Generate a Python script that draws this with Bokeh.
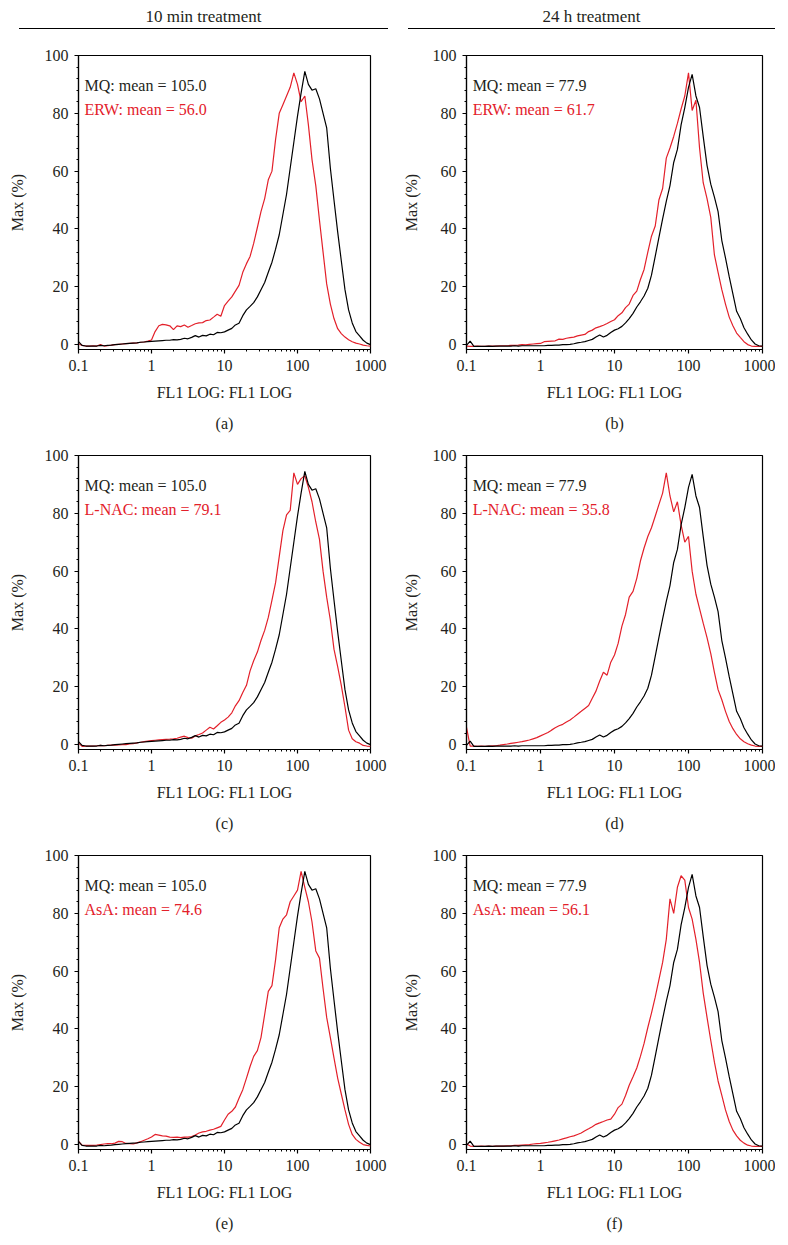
from bokeh.plotting import figure
from bokeh.models import (Range1d, FixedTicker, SingleIntervalTicker, CustomJSTickFormatter,
                          Label, Title, Div)
from bokeh.layouts import column, row
from bokeh.embed import file_html
from bokeh.resources import INLINE

FONT = "Liberation Serif"
RED = "#e3202a"
INK = "#231f20"

# FL1 LOG channel positions (x values)
fl1 = [0.100, 0.112, 0.126, 0.141, 0.158, 0.178, 0.200, 0.224, 0.251, 0.282,
       0.316, 0.355, 0.398, 0.447, 0.501, 0.562, 0.631, 0.708, 0.794, 0.891,
       1.00, 1.12, 1.26, 1.41, 1.58, 1.78, 2.00, 2.24, 2.51, 2.82,
       3.16, 3.55, 3.98, 4.47, 5.01, 5.62, 6.31, 7.08, 7.94, 8.91,
       10.0, 11.2, 12.6, 14.1, 15.8, 17.8, 20.0, 22.4, 25.1, 28.2,
       31.6, 35.5, 39.8, 44.7, 50.1, 56.2, 63.1, 70.8, 79.4, 89.1,
       100, 112, 126, 141, 158, 178, 200, 224, 251, 282,
       316, 355, 398, 447, 501, 562, 631, 708, 794, 891,
       1000]

# MQ control, 10 min (black)
mq_10min = [1.0, -0.3, -0.5, -0.5, -0.5, -0.5, -0.3, -0.4, -0.3, -0.2,
            0.0, 0.1, 0.2, 0.3, 0.4, 0.5, 0.6, 0.8, 0.9, 1.0,
            1.1, 1.2, 1.3, 1.4, 1.5, 1.5, 1.7, 1.6, 1.8, 2.2,
            2.0, 2.5, 3.1, 2.6, 3.2, 3.0, 3.6, 3.4, 4.2, 4.1,
            4.4, 5.0, 5.6, 6.8, 7.4, 10.0, 12.0, 13.2, 14.5, 16.5,
            19.0, 21.5, 25.0, 28.5, 33.0, 38.0, 45.0, 52.0, 61.0, 70.0,
            79.0, 87.0, 94.5, 90.0, 88.0, 88.5, 85.0, 80.0, 75.0, 61.0,
            50.0, 39.0, 29.0, 19.0, 12.0, 7.5, 4.5, 3.0, 1.5, 0.5,
            0.0]

# MQ control, 24 h (black)
mq_24h = [-0.3, 1.2, -0.6, -0.6, -0.6, -0.6, -0.5, -0.6, -0.5, -0.5,
          -0.5, -0.5, -0.5, -0.4, -0.5, -0.4, -0.4, -0.4, -0.4, -0.4,
          -0.4, -0.4, -0.3, -0.3, -0.2, -0.2, 0.0, 0.0, 0.1, 0.3,
          0.6, 0.8, 1.0, 1.4, 1.8, 2.6, 3.3, 2.6, 3.2, 4.2,
          5.0, 5.5, 6.3, 7.5, 9.0, 10.8, 13.0, 14.8, 16.8, 19.5,
          24.0, 30.5, 37.0, 43.5, 49.5, 55.0, 63.0, 67.5, 76.0, 82.0,
          89.0, 93.5, 86.0, 82.0, 72.0, 62.0, 55.5, 51.0, 46.0, 36.0,
          30.0, 23.5, 17.5, 11.5, 9.0, 5.8, 3.6, 1.6, 0.2, -0.4,
          -0.5]

# ERW (red)
erw_10min = [0.3, -0.3, -0.5, -0.5, -0.4, -0.5, 0.0, -0.5, -0.4, -0.2,
             0.0, 0.1, 0.2, 0.3, 0.4, 0.5, 0.6, 0.8, 0.9, 1.2,
             1.6, 4.5, 6.5, 7.0, 6.8, 6.5, 5.2, 6.5, 6.2, 6.8,
             6.0, 6.6, 7.2, 7.5, 7.6, 8.3, 8.5, 9.5, 10.5, 9.8,
             13.5, 15.0, 16.5, 18.5, 20.5, 25.0, 28.0, 30.5, 35.0, 40.5,
             46.0, 50.5, 57.0, 60.0, 71.0, 80.0, 83.0, 86.0, 89.0, 94.0,
             90.0, 84.0, 86.0, 76.0, 64.0, 55.0, 43.0, 32.0, 21.0, 14.0,
             9.0, 5.5, 3.8, 2.6, 1.7, 1.0, 0.5, 0.2, -0.2, -0.4,
             -0.5]

erw_24h = [-0.5, -0.6, -0.6, -0.5, -0.6, -0.6, -0.5, -0.5, -0.5, -0.4,
           -0.4, -0.4, -0.3, -0.3, -0.2, 0.0, -0.1, 0.1, 0.2, 0.3,
           0.4, 1.0, 1.1, 1.2, 1.3, 1.9, 1.8, 2.2, 2.4, 2.6,
           3.0, 3.3, 3.5, 4.5, 5.0, 5.8, 6.2, 6.7, 7.3, 8.0,
           8.6, 10.0, 11.0, 12.8, 14.0, 17.0, 18.5, 22.5, 26.0, 32.0,
           37.5, 41.0, 50.0, 54.0, 64.5, 68.0, 72.0, 76.5, 81.5, 86.0,
           94.0, 81.0, 84.5, 68.0, 56.0, 50.5, 44.0, 31.0, 25.0, 19.0,
           14.0, 9.5, 6.5, 4.0, 2.5, 1.0, 0.0, -0.5, -0.6, -0.6,
           -0.6]

# L-NAC (red)
lnac_10min = [0.5, -0.6, -0.5, -0.5, -0.5, -0.4, -0.3, -0.4, -0.3, -0.2,
              -0.2, -0.1, 0.0, 0.0, 0.2, 0.3, 0.6, 0.8, 1.0, 1.2,
              1.4, 1.5, 1.6, 1.7, 1.8, 1.9, 2.0, 2.2, 2.6, 2.9,
              2.4, 2.2, 3.0, 3.5, 4.0, 5.0, 6.0, 5.4, 6.5, 7.7,
              8.5, 9.5, 11.0, 13.4, 15.2, 18.0, 20.5, 25.5, 29.0, 32.0,
              36.0, 39.5, 44.0, 50.0, 56.0, 65.0, 74.0, 79.5, 81.0, 94.0,
              90.0, 92.0, 93.0, 89.0, 84.0, 77.0, 71.0, 60.0, 51.0, 43.0,
              33.0, 27.0, 20.5, 13.0, 5.0, 2.0, 1.0, 0.5, -0.3, -0.5,
              -0.6]

lnac_24h = [6.0, -0.5, -0.5, -0.6, -0.5, -0.6, -0.5, -0.4, -0.4, -0.2,
            0.0, 0.2, 0.4, 0.6, 0.8, 1.0, 1.3, 1.6, 2.0, 2.4,
            3.0, 3.6, 4.2, 5.0, 5.8, 6.5, 7.0, 7.8, 8.5, 9.5,
            10.5, 11.5, 12.5, 13.5, 16.0, 18.5, 22.0, 25.0, 24.0, 28.5,
            31.0, 35.0, 41.0, 45.0, 51.0, 53.0, 57.5, 63.5, 68.0, 72.0,
            75.0, 79.0, 83.0, 87.0, 94.0, 86.0, 80.5, 84.0, 76.0, 70.0,
            72.0, 60.0, 52.0, 47.0, 42.0, 37.0, 31.5, 25.0, 19.0, 15.5,
            11.5, 8.0, 5.5, 3.5, 2.0, 1.0, 0.3, -0.2, -0.5, -0.6,
            -0.6]

# AsA (red)
asa_10min = [1.2, -0.3, -0.3, -0.3, -0.3, -0.2, 0.0, 0.2, 0.3, 0.3,
             0.5, 1.1, 1.0, 0.4, 0.3, 0.2, 0.6, 1.0, 1.5, 2.0,
             2.6, 3.5, 3.3, 3.0, 2.9, 2.6, 2.5, 2.6, 2.4, 2.6,
             2.6, 2.8, 3.3, 4.0, 4.4, 4.6, 5.0, 5.3, 5.8, 6.3,
             8.5, 10.5, 11.5, 13.0, 16.0, 19.0, 23.0, 27.0, 30.5, 32.5,
             37.0, 45.0, 53.0, 55.0, 64.0, 75.0, 78.0, 79.5, 84.0, 86.0,
             88.0, 94.5, 89.0, 84.0, 77.0, 67.0, 64.5, 54.0, 44.0, 37.0,
             30.0, 23.0, 17.5, 12.0, 7.0, 3.5, 1.8, 0.8, 0.0, -0.3,
             -0.5]

asa_24h = [0.3, -0.5, -0.6, -0.6, -0.5, -0.6, -0.5, -0.6, -0.5, -0.5,
           -0.5, -0.4, -0.4, -0.3, -0.3, -0.2, -0.1, 0.0, 0.2, 0.3,
           0.4, 0.6, 0.8, 1.0, 1.3, 1.6, 2.0, 2.3, 2.7, 3.0,
           3.5, 4.0, 4.8, 5.5, 6.2, 7.0, 7.5, 8.0, 8.5, 8.8,
           10.5, 12.8, 14.0, 17.0, 20.5, 23.5, 26.5, 30.5, 35.0, 40.5,
           45.5, 51.0, 57.0, 63.0, 71.0, 85.0, 80.0, 89.0, 93.0, 91.5,
           82.0, 78.0, 71.0, 63.0, 52.5, 44.0, 36.0, 28.5, 22.0, 17.0,
           12.0, 8.0, 5.0, 3.0, 1.5, 0.5, -0.2, -0.5, -0.6, -0.6,
           -0.6]

x_major = [0.1, 1, 10, 100, 1000]
x_minor = [0.2, 0.3, 0.4, 0.5, 0.6, 0.7, 0.8, 0.9,
           2, 3, 4, 5, 6, 7, 8, 9,
           20, 30, 40, 50, 60, 70, 80, 90,
           200, 300, 400, 500, 600, 700, 800, 900]

panels = [
    ("(a)", mq_10min, erw_10min, "MQ: mean = 105.0", "ERW: mean = 56.0", "left"),
    ("(b)", mq_24h, erw_24h, "MQ: mean = 77.9", "ERW: mean = 61.7", "right"),
    ("(c)", mq_10min, lnac_10min, "MQ: mean = 105.0", "L-NAC: mean = 79.1", "left"),
    ("(d)", mq_24h, lnac_24h, "MQ: mean = 77.9", "L-NAC: mean = 35.8", "right"),
    ("(e)", mq_10min, asa_10min, "MQ: mean = 105.0", "AsA: mean = 74.6", "left"),
    ("(f)", mq_24h, asa_24h, "MQ: mean = 77.9", "AsA: mean = 56.1", "right"),
]


def make_panel(tag, mq, trt, mq_text, trt_text, side):
    if side == "left":
        w, bl, br, lab_standoff = 397, 78, 27, 16
    else:
        w, bl, br, lab_standoff = 378, 69, 13, 10
    p = figure(x_axis_type="log", x_range=Range1d(0.1, 1000), y_range=Range1d(-1.7, 100),
               width=w, height=400,
               min_border_left=bl, min_border_right=br, min_border_top=12, min_border_bottom=94,
               output_backend="svg", toolbar_location=None, background_fill_color="white",
               border_fill_color="white")
    p.grid.visible = False
    p.outline_line_color = "black"
    p.outline_line_width = 1.2
    p.outline_line_alpha = 1.0

    p.line(fl1, trt, line_color=RED, line_width=1.2)
    p.line(fl1, mq, line_color="black", line_width=1.2)

    p.xaxis.ticker = FixedTicker(ticks=x_major, minor_ticks=x_minor)
    p.xaxis.formatter = CustomJSTickFormatter(code="return String(Math.round(tick*10)/10);")
    p.yaxis.ticker = SingleIntervalTicker(interval=20, num_minor_ticks=5)
    p.xaxis.axis_label = "FL1 LOG: FL1 LOG"
    p.yaxis.axis_label = "Max (%)"

    for ax in (p.xaxis[0], p.yaxis[0]):
        ax.axis_line_color = "black"
        ax.axis_line_width = 1.2
        ax.major_tick_line_color = "black"
        ax.major_tick_line_width = 1.2
        ax.minor_tick_line_color = "black"
        ax.minor_tick_line_width = 1.0
        ax.major_tick_in = 0
        ax.major_tick_out = 4
        ax.minor_tick_in = 0
        ax.minor_tick_out = 2
        ax.major_label_text_font = FONT
        ax.major_label_text_font_size = "16px"
        ax.major_label_text_color = INK
        ax.axis_label_text_font = FONT
        ax.axis_label_text_font_size = "16px"
        ax.axis_label_text_font_style = "normal"
        ax.axis_label_text_color = INK
        ax.major_label_standoff = 6
    p.xaxis.axis_label_standoff = 10
    p.yaxis.axis_label_standoff = lab_standoff

    p.add_layout(Label(x=0.121, y=89.6, text=mq_text, text_font=FONT, text_font_size="16px",
                       text_color=INK, text_baseline="middle"))
    p.add_layout(Label(x=0.121, y=81.3, text=trt_text, text_font=FONT, text_font_size="16px",
                       text_color=RED, text_baseline="middle"))
    p.add_layout(Title(text=tag, align="center", text_font=FONT, text_font_size="16px",
                       text_font_style="normal", text_color=INK, standoff=18), "below")
    return p


figs = [make_panel(*args) for args in panels]

header_html = (
    "<div style=\"position:relative;width:775px;height:33px;font-family:'Liberation Serif',serif;"
    "font-size:17px;color:#231f20;\">"
    "<div style=\"position:absolute;left:14px;top:3px;width:369px;text-align:center;line-height:18px;"
    "padding-bottom:2px;border-bottom:1.3px solid #000;\">10 min treatment</div>"
    "<div style=\"position:absolute;left:403px;top:3px;width:367px;text-align:center;line-height:18px;"
    "padding-bottom:2px;border-bottom:1.3px solid #000;\">24 h treatment</div>"
    "</div>"
)
header = Div(text=header_html, width=775, height=33)

layout = column(header,
                row(figs[0], figs[1], spacing=0),
                row(figs[2], figs[3], spacing=0),
                row(figs[4], figs[5], spacing=0),
                spacing=0)

open("out.html", "w").write(file_html(layout, INLINE))
